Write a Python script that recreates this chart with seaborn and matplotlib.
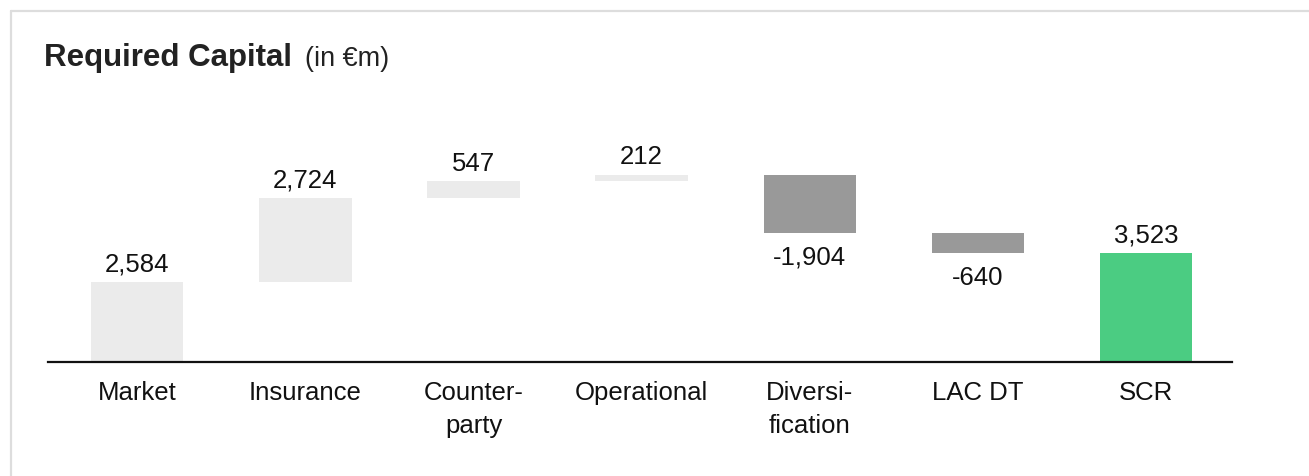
import numpy as np
import seaborn as sns
import matplotlib.pyplot as plt
from matplotlib.lines import Line2D

sns.set_style('white')
plt.rcParams['font.family'] = ['Liberation Sans', 'DejaVu Sans']

categories = ['Market', 'Insurance', 'Counter-\nparty', 'Operational', 'Diversi-\nfication', 'LAC DT', 'SCR']
values = [2584, 2724, 547, 212, -1904, -640, 3523]
labels = ['2,584', '2,724', '547', '212', '-1,904', '-640', '3,523']
colors = ['#ebebeb', '#ebebeb', '#ebebeb', '#ebebeb', '#999999', '#999999', '#4bcc82']

# waterfall: each step starts where the previous one ended, the total starts at zero
bottoms = np.concatenate([[0], np.cumsum(values[:-1])])
bottoms[-1] = 0

fig = plt.figure(figsize=(13.09, 4.76), dpi=100)
ax = fig.add_axes([48 / 1309, 114 / 476, 1184 / 1309, 262 / 476])

sns.barplot(x=categories, y=values, bottom=bottoms, width=0.55, color='#ebebeb',
            errorbar=None, saturation=1, ax=ax)
for bar, c in zip(ax.patches, colors):
    bar.set_facecolor(c)
    bar.set_edgecolor('none')

for i, (b, v, t) in enumerate(zip(bottoms, values, labels)):
    if v >= 0:
        ax.annotate(t, (i, b + v), xytext=(0, 4), textcoords='offset points',
                    ha='center', va='bottom', fontsize=18.5, color='#111111')
    else:
        ax.annotate(t, (i, b + v), xytext=(0, -9), textcoords='offset points',
                    ha='center', va='top', fontsize=18.5, color='#111111')

ax.set_xlim(-0.53, 6.51)
ax.set_ylim(0, 8480)
ax.set_yticks([])
ax.set_ylabel('')
for s in ['top', 'right', 'left']:
    ax.spines[s].set_visible(False)
ax.spines['bottom'].set_linewidth(1.6)
ax.spines['bottom'].set_color('#111111')
ax.tick_params(axis='x', length=0, pad=14, labelsize=18.5, labelcolor='#111111')
for lab in ax.get_xticklabels():
    lab.set_linespacing(1.45)
    lab.set_verticalalignment('top')

# panel border (top and left edges only)
fig.add_artist(Line2D([11 / 1309, 1], [1 - 11 / 476] * 2, color='#dddddd', lw=1.6))
fig.add_artist(Line2D([11 / 1309] * 2, [0, 1 - 11 / 476], color='#dddddd', lw=1.6))

t1 = fig.text(44 / 1309, 1 - 58 / 476, 'Required Capital', fontsize=22.5, fontweight='bold',
              color='#222222', va='center', ha='left')
fig.canvas.draw()
bb = t1.get_window_extent()
fig.text(bb.x1 / 1309 + 13 / 1309, 1 - 59 / 476, '(in €m)', fontsize=19.5, color='#222222',
         va='center', ha='left')

fig.savefig('out.png', dpi=100)
